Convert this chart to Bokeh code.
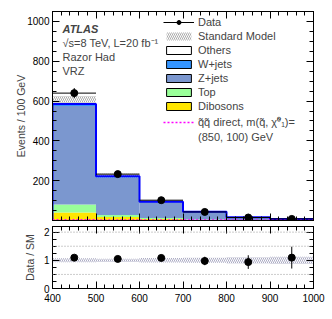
import numpy as np
from bokeh.plotting import figure
from bokeh.models import (Range1d, LinearAxis, Legend, LegendItem, Label, Span,
                          ColumnDataSource, SingleIntervalTicker, CustomJSTickFormatter)
from bokeh.layouts import column
from bokeh.embed import file_html
from bokeh.resources import INLINE

# ---------------- data ----------------
bin_edges = [400, 500, 600, 700, 800, 900, 1000]
data_counts = [640, 233, 102, 43, 15, 8]
dibosons = [40, 18, 8, 3, 1.5, 0.7]
top_quark = [40, 10, 5, 2, 1, 0.5]
zjets = [495, 188, 78, 37, 13, 5.6]
wjets = [6, 4, 2, 1.2, 0.4, 0.3]
others = [4, 2, 1, 0.8, 0.1, 0.2]
sm_rel_unc = [0.07, 0.06, 0.08, 0.09, 0.11, 0.13]
signal = [4, 3, 2.5, 2, 1.5, 1]
ratio_ref_lines = [0.5, 1.5, 2.0]

FONT = "Liberation Sans"
edges = np.array(bin_edges, dtype=float)
lo, hi = edges[:-1], edges[1:]
ctr = 0.5 * (lo + hi)
d = np.array(data_counts, dtype=float)
comps = [("Dibosons", dibosons, "#ffe600"),
         ("Top", top_quark, "#99ff99"),
         ("Z+jets", zjets, "#7b97cf"),
         ("W+jets", wjets, "#3394ff"),
         ("Others", others, "#ffffff")]
sm = np.sum([np.array(c[1], dtype=float) for c in comps], axis=0)
unc = sm * np.array(sm_rel_unc)
EMPTY = CustomJSTickFormatter(code="return ''")


def style_axis(ax, labels=True):
    ax.major_tick_in = 7
    ax.major_tick_out = 0
    ax.minor_tick_in = 4
    ax.minor_tick_out = 0
    ax.axis_line_color = "black"
    ax.major_tick_line_color = "black"
    ax.minor_tick_line_color = "black"
    ax.major_label_text_font = FONT
    ax.major_label_text_font_size = "10px"
    ax.major_label_text_color = "black"
    ax.major_label_standoff = 3
    ax.axis_label_text_font = FONT
    ax.axis_label_text_font_size = "10.5px"
    ax.axis_label_text_font_style = "normal"
    ax.axis_label_standoff = 0
    if not labels:
        ax.formatter = EMPTY
        ax.major_label_standoff = 0


def make_fig(ymax, fh, top_border, bottom_border, xtick_labels):
    p = figure(frame_width=261, frame_height=fh, x_range=Range1d(400, 1000),
               y_range=Range1d(0, ymax), output_backend="svg", toolbar_location=None,
               min_border_left=52, min_border_right=16, min_border_top=top_border,
               min_border_bottom=bottom_border)
    p.grid.visible = False
    p.outline_line_color = "black"
    p.background_fill_color = "white"
    p.border_fill_color = "white"
    p.xaxis.ticker = SingleIntervalTicker(interval=100, num_minor_ticks=5)
    style_axis(p.xaxis[0], labels=xtick_labels)
    style_axis(p.yaxis[0], labels=True)
    ax_top = LinearAxis(ticker=SingleIntervalTicker(interval=100, num_minor_ticks=5))
    style_axis(ax_top, labels=False)
    p.add_layout(ax_top, "above")
    return p


# ---------------- main panel ----------------
p = make_fig(1050, 209, 11, 3, False)
p.yaxis.ticker = SingleIntervalTicker(interval=200, num_minor_ticks=4)
p.yaxis.major_label_overrides = {0: ""}
p.yaxis.axis_label = "Events / 100 GeV"
p.yaxis.axis_label_standoff = -3
ax_r = LinearAxis(ticker=SingleIntervalTicker(interval=200, num_minor_ticks=4))
style_axis(ax_r, labels=False)
p.add_layout(ax_r, "right")

# uncertainty band (drawn beneath stack)
band = p.quad(left=lo, right=hi, bottom=sm - unc, top=sm + unc, fill_alpha=0,
              line_alpha=0, hatch_pattern="\\", hatch_color="#888888",
              hatch_scale=4, hatch_weight=0.7)

base = np.zeros(len(lo))
legend_rend = {}
for name, vals, col in comps:
    v = np.array(vals, dtype=float)
    p.quad(left=lo, right=hi, bottom=base, top=base + v, fill_color=col,
           line_color=None)
    dummy = ColumnDataSource(dict(left=[np.nan], right=[np.nan],
                                  bottom=[np.nan], top=[np.nan]))
    legend_rend[name] = p.quad(left="left", right="right", bottom="bottom", top="top",
                               source=dummy, fill_color=col,
                               line_color="black", line_width=1)
    base = base + v

# total SM outline
xs = np.concatenate([[edges[0]], np.repeat(edges, 2)[1:-1], [edges[-1]]])
ys = np.concatenate([[0], np.repeat(sm, 2), [0]])
p.line(xs, ys, line_color="#0000ff", line_width=2)

# signal
sx = np.repeat(edges, 2)[1:-1]
sy = np.repeat(np.array(signal, dtype=float), 2)
sig = p.line(sx, sy, line_color="#ff00ff", line_width=1.5, line_dash="2 2")

# data
derr = np.sqrt(d)
hbar = p.segment(x0=lo, x1=hi, y0=d, y1=d, line_color="black", line_width=1)
p.segment(x0=ctr, x1=ctr, y0=d - derr, y1=d + derr, line_color="black", line_width=1)
dots = p.scatter(ctr, d, size=7, color="black")

blank = p.line([], [], line_alpha=0)
items = [
    LegendItem(label="Data", renderers=[hbar, dots]),
    LegendItem(label="Standard Model", renderers=[band]),
    LegendItem(label="Others", renderers=[legend_rend["Others"]]),
    LegendItem(label="W+jets", renderers=[legend_rend["W+jets"]]),
    LegendItem(label="Z+jets", renderers=[legend_rend["Z+jets"]]),
    LegendItem(label="Top", renderers=[legend_rend["Top"]]),
    LegendItem(label="Dibosons", renderers=[legend_rend["Dibosons"]]),
    LegendItem(label="q\u0303q\u0303 direct, m(q\u0303, \u03c7\u0303\u2070\u2081)=", renderers=[sig]),
    LegendItem(label="(850, 100) GeV", renderers=[blank]),
]
leg = Legend(items=items, location=(111, 77), orientation="vertical",
             background_fill_alpha=0, border_line_alpha=0, padding=0, margin=0,
             spacing=2, glyph_width=31, glyph_height=10, label_height=10,
             label_standoff=4, label_text_font=FONT, label_text_font_size="11px")
p.add_layout(leg)

texts = [("ATLAS", 962, "bold italic"),
         ("\u221as=8 TeV, L=20 fb\u207b\u00b9", 892, "normal"),
         ("Razor Had", 821, "normal"),
         ("VRZ", 751, "normal")]
for t, yv, st in texts:
    p.add_layout(Label(x=400, y=yv, x_offset=10, text=t, text_font=FONT,
                       text_font_size="11px", text_font_style=st,
                       text_baseline="middle", text_align="left"))

# ---------------- ratio panel ----------------
r = make_fig(2.2, 62, 3, 30, True)
r.xaxis.major_label_standoff = 5
r.yaxis.ticker = SingleIntervalTicker(interval=1, num_minor_ticks=4)
r.yaxis.axis_label = "Data / SM"
r.yaxis.axis_label_standoff = 5
ax_r2 = LinearAxis(ticker=SingleIntervalTicker(interval=1, num_minor_ticks=4))
style_axis(ax_r2, labels=False)
r.add_layout(ax_r2, "right")
for yv in ratio_ref_lines:
    r.add_layout(Span(location=yv, dimension="width", line_color="#999999",
                      line_dash="1 2", line_width=1))
rel = np.array(sm_rel_unc)
r.quad(left=lo, right=hi, bottom=1 - rel, top=1 + rel, fill_alpha=0, line_alpha=0,
       hatch_pattern="\\", hatch_color="#8888aa", hatch_scale=4, hatch_weight=0.7)
ratio = d / sm
rerr = derr / sm
r.segment(x0=ctr, x1=ctr, y0=ratio - rerr, y1=ratio + rerr, line_color="black")
r.scatter(ctr, ratio, size=7, color="black")

# x-axis title M_R' [GeV]
lab_kw = dict(text_font=FONT, text_baseline="alphabetic")
r.add_layout(Label(x=1000, y=0, y_offset=-23, text="[GeV]", text_align="right",
                   text_font_size="11px", **lab_kw))
r.add_layout(Label(x=1000, y=0, y_offset=-23, x_offset=-31, text="M", text_align="right",
                   text_font_size="11px", **lab_kw))
r.add_layout(Label(x=1000, y=0, y_offset=-26, x_offset=-31, text="R", text_align="left",
                   text_font_size="7px", **lab_kw))
r.add_layout(Label(x=1000, y=0, y_offset=-19, x_offset=-28, text="\u2032", text_align="left",
                   text_font_size="9px", **lab_kw))

lay = column(p, r, spacing=0)
open("out.html", "w").write(file_html(lay, INLINE))
